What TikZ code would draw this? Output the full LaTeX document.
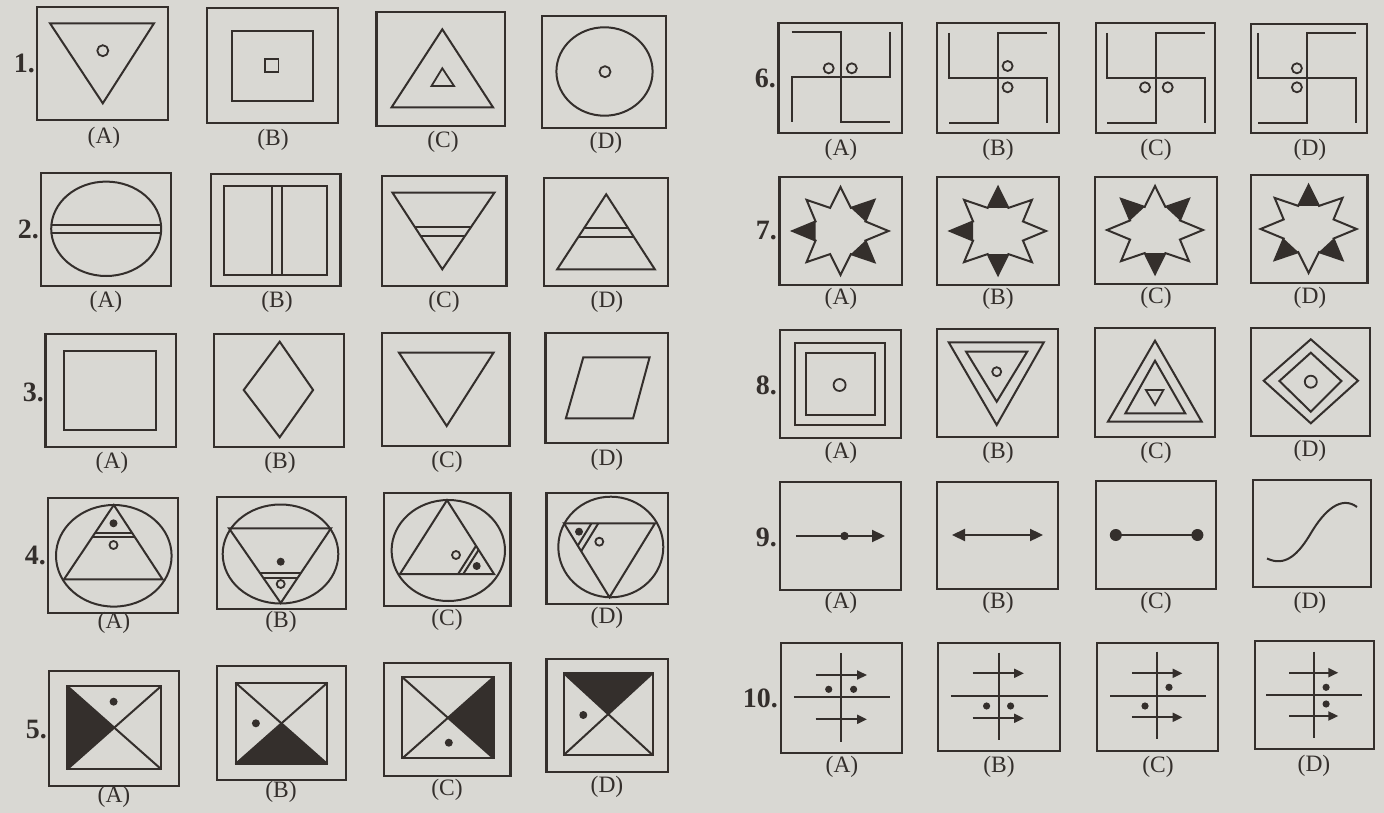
\documentclass[tikz,border=0pt]{standalone}
\usepackage{fontspec}
\setmainfont{Liberation Serif}
\usetikzlibrary{calc,arrows.meta}
\definecolor{paper}{RGB}{217,216,211}
\definecolor{ink}{RGB}{52,47,44}
\newcommand\eightstar[3]{%
  \begin{scope}[shift={(#1,#2)}]
    \foreach \k in {#3} {
      \fill[ink] (-90+45*\k:48 and 44) -- (-90+45*\k+22.5:27 and 25) -- (-90+45*\k-22.5:27 and 25) -- cycle;
    }
    \draw[fig,line join=miter] (-90:48 and 44) \foreach \k in {0,...,7}{ -- (-90+45*\k:48 and 44) -- (-90+45*\k+22.5:27 and 25)} -- cycle;
  \end{scope}}
\newcommand\swA[2]{%
  \begin{scope}[shift={(#1,#2)}]
    \draw[fig] (-49,-45) -- (0,-45) -- (0,45) -- (49,45);
    \draw[fig] (49,-45) -- (49,0) -- (-49,0) -- (-49,45);
  \end{scope}}
\newcommand\swB[2]{%
  \begin{scope}[shift={(#1,#2)}]
    \draw[fig] (-49,-45) -- (-49,0) -- (49,0) -- (49,45);
    \draw[fig] (49,-45) -- (0,-45) -- (0,45) -- (-49,45);
  \end{scope}}
\begin{document}
\begin{tikzpicture}[x=1pt,y=-1pt,
  frame/.style={draw=ink,line width=2.2pt},
  fig/.style={draw=ink,line width=2pt},
  hole/.style={draw=ink,line width=1.8pt},
  dot/.style={fill=ink},
  lbl/.style={text=ink,font=\fontsize{23.5}{24}\selectfont,inner sep=0pt},
  num/.style={text=ink,font=\fontsize{28}{28}\selectfont\bfseries,inner sep=0pt,anchor=east},
  arr/.style={fig,line width=2.3pt,-{Triangle[length=13pt,width=12pt]}},
  sarr/.style={fig,-{Triangle[length=10pt,width=9pt]}}]
\fill[paper] (0,0) rectangle (1384,813);
\useasboundingbox (0,0) rectangle (1384,813);

% ---------------- row numbers
\node[num] (n1) at (35,63) {1.};
\node[num] (n2) at (39,229) {2.};
\node[num] (n3) at (44,392) {3.};
\node[num] (n4) at (46,555) {4.};
\node[num] (n5) at (47,730) {5.};
\node[num] (n6) at (776,78) {6.};
\node[num] (n7) at (777,231) {7.};
\node[num] (n8) at (777,385) {8.};
\node[num] (n9) at (777,537) {9.};
\node[num] (n10) at (778,698) {10.};

% ---------------- row 1
\draw[frame] (37,7) rectangle (168,120);
\draw[fig] (50,23.3) -- (154,23.3) -- (102.8,103.3) -- cycle;
\draw[hole] (102.8,50.7) circle[radius=5.5];
\draw[frame] (207.3,8.3) rectangle (338.2,122.7);
\draw[fig] (232,30.7) rectangle (313.1,100.7);
\draw[hole] (265,59) rectangle (278.5,72);
\draw[frame] (376.4,11.7) rectangle (505.2,126);
\draw[fig] (442.3,29.3) -- (493,107.3) -- (391.6,107.3) -- cycle;
\draw[hole] (442.3,68.3) -- (454,86) -- (431.5,86) -- cycle;
\draw[frame] (542,16) rectangle (665.7,128.3);
\draw[fig] (604.5,71.5) ellipse[x radius=48.1,y radius=44.2];
\draw[hole] (605,71.7) circle[radius=5.5];
\node[lbl] (l1a) at (104,138) {(A)};
\node[lbl] (l1b) at (273,140) {(B)};
\node[lbl] (l1c) at (443,142) {(C)};
\node[lbl] (l1d) at (606,143) {(D)};

% ---------------- row 2
\draw[frame] (41.2,172.7) rectangle (171.3,286);
\draw[fig] (106.2,228.8) ellipse[x radius=55,y radius=47.2];
\draw[fig] (51.4,225) -- (161,225);
\draw[fig] (51.4,233.3) -- (161,233.3);
\draw[frame] (211.2,174) rectangle (340.4,286);
\draw[fig] (224.2,186) rectangle (327.4,275);
\draw[fig] (272.3,186) -- (272.3,275);
\draw[fig] (281.9,186) -- (281.9,275);
\draw[frame] (381.6,176) rectangle (506.5,286);
\coordinate (t2cl) at (392.5,192.7);
\coordinate (t2cr) at (494.4,192.7);
\coordinate (t2ca) at (442.3,269.3);
\draw[fig] (t2cl) -- (t2cr) -- (t2ca) -- cycle;
\draw[fig] ($(t2cl)!0.444!(t2ca)$) -- ($(t2cr)!0.444!(t2ca)$);
\draw[fig] ($(t2cl)!0.565!(t2ca)$) -- ($(t2cr)!0.565!(t2ca)$);
\draw[frame] (544.2,177.7) rectangle (667.8,286);
\coordinate (t2da) at (606.2,194.3);
\coordinate (t2dl) at (557.2,269.3);
\coordinate (t2dr) at (654.8,269.3);
\draw[fig] (t2da) -- (t2dr) -- (t2dl) -- cycle;
\draw[fig] ($(t2da)!0.453!(t2dl)$) -- ($(t2da)!0.453!(t2dr)$);
\draw[fig] ($(t2da)!0.565!(t2dl)$) -- ($(t2da)!0.565!(t2dr)$);
\node[lbl] (l2a) at (106,302) {(A)};
\node[lbl] (l2b) at (277,302) {(B)};
\node[lbl] (l2c) at (444,302) {(C)};
\node[lbl] (l2d) at (607,302) {(D)};

% ---------------- row 3
\draw[frame] (45.5,334) rectangle (175.6,446.7);
\draw[fig] (64.2,350.7) rectangle (156.1,430);
\draw[frame] (213.8,334) rectangle (343.9,446.7);
\draw[fig] (279.7,341.7) -- (313.1,390) -- (279.7,437.3) -- (243.7,390) -- cycle;
\draw[frame] (381.6,332.7) rectangle (509.5,446);
\draw[fig] (399,352.7) -- (493.5,352.7) -- (446.7,426) -- cycle;
\draw[frame] (545.5,332.7) rectangle (667.8,442.7);
\draw[fig] (583.3,357.3) -- (649.6,357.3) -- (633.1,418.3) -- (565.9,418.3) -- cycle;
\node[lbl] (l3a) at (112,463) {(A)};
\node[lbl] (l3b) at (280,463) {(B)};
\node[lbl] (l3c) at (447,462) {(C)};
\node[lbl] (l3d) at (607,460) {(D)};

% ---------------- row 4
\draw[frame] (47.7,498.3) rectangle (177.8,613);
\draw[fig] (113.8,555.8) ellipse[x radius=57.8,y radius=50.8];
\coordinate (a4a) at (113.8,505);
\coordinate (b4a) at (64,579.3);
\coordinate (c4a) at (162.5,579.3);
\draw[fig] (a4a) -- (b4a) -- (c4a) -- cycle;
\draw[fig] ($(a4a)!0.373!(b4a)$) -- ($(a4a)!0.373!(c4a)$);
\draw[fig] ($(a4a)!0.427!(b4a)$) -- ($(a4a)!0.427!(c4a)$);
\fill[dot] (113.5,523.3) circle[radius=4];
\draw[hole] (113.5,545) circle[radius=4];

\draw[frame] (216.8,497.3) rectangle (345.6,608.7);
\draw[fig] (280.5,554) ellipse[x radius=57.8,y radius=49.5];
\coordinate (a4b) at (280.7,603);
\coordinate (b4b) at (229,528.3);
\coordinate (c4b) at (331,528.3);
\draw[fig] (a4b) -- (b4b) -- (c4b) -- cycle;
\draw[fig] ($(a4b)!0.404!(b4b)$) -- ($(a4b)!0.404!(c4b)$);
\draw[fig] ($(a4b)!0.339!(b4b)$) -- ($(a4b)!0.339!(c4b)$);
\fill[dot] (280.7,561.7) circle[radius=4];
\draw[hole] (280.7,584) circle[radius=4];

\draw[frame] (383.8,493.3) rectangle (510.4,606);
\draw[fig] (448.3,550.5) ellipse[x radius=56.7,y radius=50.5];
\coordinate (a4c) at (447,500.2);
\coordinate (b4c) at (400,574);
\coordinate (c4c) at (494,574);
\draw[fig] (a4c) -- (b4c) -- (c4c) -- cycle;
\draw[fig] ($(c4c)!0.382!(a4c)$) -- ($(c4c)!0.382!(b4c)$);
\draw[fig] ($(c4c)!0.327!(a4c)$) -- ($(c4c)!0.327!(b4c)$);
\fill[dot] (476.7,566) circle[radius=4];
\draw[hole] (456,555) circle[radius=4];

\draw[frame] (546.4,492.7) rectangle (667.8,604);
\draw[fig] (610.8,547) ellipse[x radius=52.5,y radius=50.3];
\coordinate (a4d) at (609.5,597.3);
\coordinate (b4d) at (564,523.3);
\coordinate (c4d) at (655,523.3);
\draw[fig] (a4d) -- (b4d) -- (c4d) -- cycle;
\draw[fig] ($(b4d)!0.302!(c4d)$) -- ($(b4d)!0.302!(a4d)$);
\draw[fig] ($(b4d)!0.377!(c4d)$) -- ($(b4d)!0.377!(a4d)$);
\fill[dot] (579,531.7) circle[radius=4];
\draw[hole] (599.3,541.7) circle[radius=4];
\node[lbl] (l4a) at (114,623) {(A)};
\node[lbl] (l4b) at (281,622) {(B)};
\node[lbl] (l4c) at (447,620) {(C)};
\node[lbl] (l4d) at (607,618) {(D)};

% ---------------- row 5
\draw[frame] (48.6,670.7) rectangle (178.7,786);
\fill[ink] (67.2,686) -- (114.25,727.65) -- (67.2,769.3) -- cycle;
\draw[fig] (67.2,686) rectangle (161.3,769.3);
\draw[fig] (67.2,686) -- (161.3,769.3);
\draw[fig] (67.2,769.3) -- (161.3,686);
\fill[dot] (113.6,701.7) circle[radius=4];

\draw[frame] (216.8,666) rectangle (345.6,780);
\fill[ink] (235.5,764) -- (281.45,723.35) -- (327.4,764) -- cycle;
\draw[fig] (235.5,682.7) rectangle (327.4,764);
\draw[fig] (235.5,682.7) -- (327.4,764);
\draw[fig] (235.5,764) -- (327.4,682.7);
\fill[dot] (255.9,723.3) circle[radius=4];

\draw[frame] (383.8,663.3) rectangle (510.4,776);
\fill[ink] (493.5,677.3) -- (447.95,717.8) -- (493.5,758.3) -- cycle;
\draw[fig] (402.4,677.3) rectangle (493.5,758.3);
\draw[fig] (402.4,677.3) -- (493.5,758.3);
\draw[fig] (402.4,758.3) -- (493.5,677.3);
\fill[dot] (448.8,742.7) circle[radius=4];

\draw[frame] (546.4,659.3) rectangle (667.8,771.7);
\fill[ink] (563.8,673.3) -- (652.6,673.3) -- (608.2,714.15) -- cycle;
\draw[fig] (563.8,673.3) rectangle (652.6,755);
\draw[fig] (563.8,673.3) -- (652.6,755);
\draw[fig] (563.8,755) -- (652.6,673.3);
\fill[dot] (583.3,715) circle[radius=4];
\node[lbl] (l5a) at (114,797) {(A)};
\node[lbl] (l5b) at (281,792) {(B)};
\node[lbl] (l5c) at (447,790) {(C)};
\node[lbl] (l5d) at (607,787) {(D)};

% ---------------- row 6
\draw[frame] (778.5,22.7) rectangle (901.6,132.7);
\swA{840.5}{77}
\draw[hole] (828.7,68.3) circle[radius=5];
\draw[hole] (851.8,68.3) circle[radius=5];
\draw[frame] (936.9,23.3) rectangle (1059.1,132.7);
\swB{998}{78}
\draw[hole] (1007.6,66) circle[radius=5];
\draw[hole] (1007.6,87.3) circle[radius=5];
\draw[frame] (1096.2,23.3) rectangle (1214.8,132.7);
\swB{1156}{78}
\draw[hole] (1145,87.3) circle[radius=5];
\draw[hole] (1167.7,87.3) circle[radius=5];
\draw[frame] (1250.6,24) rectangle (1366.7,132.7);
\swB{1307}{78}
\draw[hole] (1296.9,68.3) circle[radius=5];
\draw[hole] (1296.9,87.3) circle[radius=5];
\node[lbl] (l6a) at (841,150) {(A)};
\node[lbl] (l6b) at (998,150) {(B)};
\node[lbl] (l6c) at (1156,150) {(C)};
\node[lbl] (l6d) at (1310,150) {(D)};

% ---------------- row 7
\draw[frame] (779.4,176.7) rectangle (901.6,285);
\eightstar{840.5}{231}{6,1,3}
\draw[frame] (936.9,176.7) rectangle (1059.1,285);
\eightstar{998}{231}{0,6,4}
\draw[frame] (1094.9,176.7) rectangle (1217,284);
\eightstar{1155}{230}{7,1,4}
\draw[frame] (1250.6,175) rectangle (1367.5,282.7);
\eightstar{1308.6}{229}{0,5,3}
\node[lbl] (l7a) at (841,299) {(A)};
\node[lbl] (l7b) at (998,299) {(B)};
\node[lbl] (l7c) at (1156,298) {(C)};
\node[lbl] (l7d) at (1310,298) {(D)};

% ---------------- row 8
\draw[frame] (779.8,330) rectangle (900.7,438.3);
\draw[fig] (795.1,342.7) rectangle (884.6,425);
\draw[fig] (805.6,352.7) rectangle (874.5,415);
\draw[hole] (839.6,385) circle[radius=6];
\draw[frame] (936.9,329.3) rectangle (1057.8,437.3);
\draw[fig] (948.7,342.3) -- (1043.8,342.3) -- (996.7,425) -- cycle;
\draw[fig] (966.1,351.7) -- (1027.2,351.7) -- (996.7,401.7) -- cycle;
\draw[hole] (996.7,371.7) circle[radius=4.5];
\draw[frame] (1094.9,328.3) rectangle (1214.8,436.7);
\draw[fig] (1155,340.7) -- (1201.7,421.7) -- (1107.9,421.7) -- cycle;
\draw[fig] (1155,360.7) -- (1185.2,413.3) -- (1125.4,413.3) -- cycle;
\draw[hole] (1145.9,390) -- (1163.4,390) -- (1155,405) -- cycle;
\draw[frame] (1250.6,328.3) rectangle (1369.7,436);
\draw[fig] (1310.8,339.3) -- (1358,380.7) -- (1310.8,423.3) -- (1263.7,380.7) -- cycle;
\draw[fig] (1310.8,352.7) -- (1341.4,381) -- (1310.8,411.7) -- (1279.4,381) -- cycle;
\draw[hole] (1310.8,381.7) circle[radius=6];
\node[lbl] (l8a) at (841,453) {(A)};
\node[lbl] (l8b) at (998,453) {(B)};
\node[lbl] (l8c) at (1156,453) {(C)};
\node[lbl] (l8d) at (1310,451) {(D)};

% ---------------- row 9
\draw[frame] (779.8,481.7) rectangle (900.7,590);
\coordinate (s9a) at (796,536);
\coordinate (e9a) at (885,536);
\draw[arr] (s9a) -- (e9a);
\fill[dot] (844.5,536) circle[radius=4.2];
\draw[frame] (936.9,481.7) rectangle (1057.8,589.3);
\coordinate (s9b) at (952,535);
\coordinate (e9b) at (1043,535);
\draw[fig,line width=2.3pt,{Triangle[length=13pt,width=12pt]}-{Triangle[length=13pt,width=12pt]}] (s9b) -- (e9b);
\draw[frame] (1096.2,480.7) rectangle (1215.7,589.3);
\coordinate (s9c) at (1115.8,535);
\coordinate (e9c) at (1197.4,535);
\draw[fig] (s9c) -- (e9c);
\fill[dot] (s9c) circle[radius=6];
\fill[dot] (e9c) circle[radius=6];
\draw[frame] (1253.2,480) rectangle (1371,587.3);
\coordinate (s9d) at (1267,558.5);
\coordinate (m9d) at (1311,533);
\coordinate (e9d) at (1357,507);
\draw[fig] (s9d) .. controls (1285,567) and (1298,555) .. (m9d) .. controls (1324,511) and (1341,495) .. (e9d);
\node[lbl] (l9a) at (841,603) {(A)};
\node[lbl] (l9b) at (998,603) {(B)};
\node[lbl] (l9c) at (1156,603) {(C)};
\node[lbl] (l9d) at (1310,603) {(D)};

% ---------------- row 10
\draw[frame] (780.7,642.7) rectangle (901.6,752.7);
\draw[fig] (840.5,653.3) -- (840.5,741.7);
\draw[fig] (793.8,696.7) -- (889.8,696.7);
\draw[sarr] (815.6,675) -- (867,675);
\draw[sarr] (815.6,719.3) -- (867,719.3);
\fill[dot] (828.7,689.3) circle[radius=3.6];
\fill[dot] (853.6,689.3) circle[radius=3.6];
\draw[frame] (937.8,642.7) rectangle (1060,750.7);
\draw[fig] (998.9,652.7) -- (998.9,740);
\draw[fig] (950.9,696) -- (1047.7,696);
\draw[sarr] (972.7,673.3) -- (1024,673.3);
\draw[sarr] (972.7,718.3) -- (1024,718.3);
\fill[dot] (986.6,706) circle[radius=3.6];
\fill[dot] (1010.6,706) circle[radius=3.6];
\draw[frame] (1097,642.7) rectangle (1218.3,750.7);
\draw[fig] (1157.2,651.7) -- (1157.2,739.3);
\draw[fig] (1110.1,696) -- (1206.1,696);
\draw[sarr] (1131.9,673.3) -- (1182.5,673.3);
\draw[sarr] (1131.9,717.3) -- (1182.5,717.3);
\fill[dot] (1169,687.3) circle[radius=3.6];
\fill[dot] (1145,706) circle[radius=3.6];
\draw[frame] (1255,640.7) rectangle (1374,749.3);
\draw[fig] (1314.3,651.7) -- (1314.3,738.3);
\draw[fig] (1266.3,695) -- (1362.3,695);
\draw[sarr] (1289,672.7) -- (1338.3,672.7);
\draw[sarr] (1289,716) -- (1338.3,716);
\fill[dot] (1326.1,687.3) circle[radius=3.6];
\fill[dot] (1326.1,704) circle[radius=3.6];
\node[lbl] (l10a) at (842,767) {(A)};
\node[lbl] (l10b) at (999,767) {(B)};
\node[lbl] (l10c) at (1158,767) {(C)};
\node[lbl] (l10d) at (1314,766) {(D)};
\end{tikzpicture}
\end{document}
